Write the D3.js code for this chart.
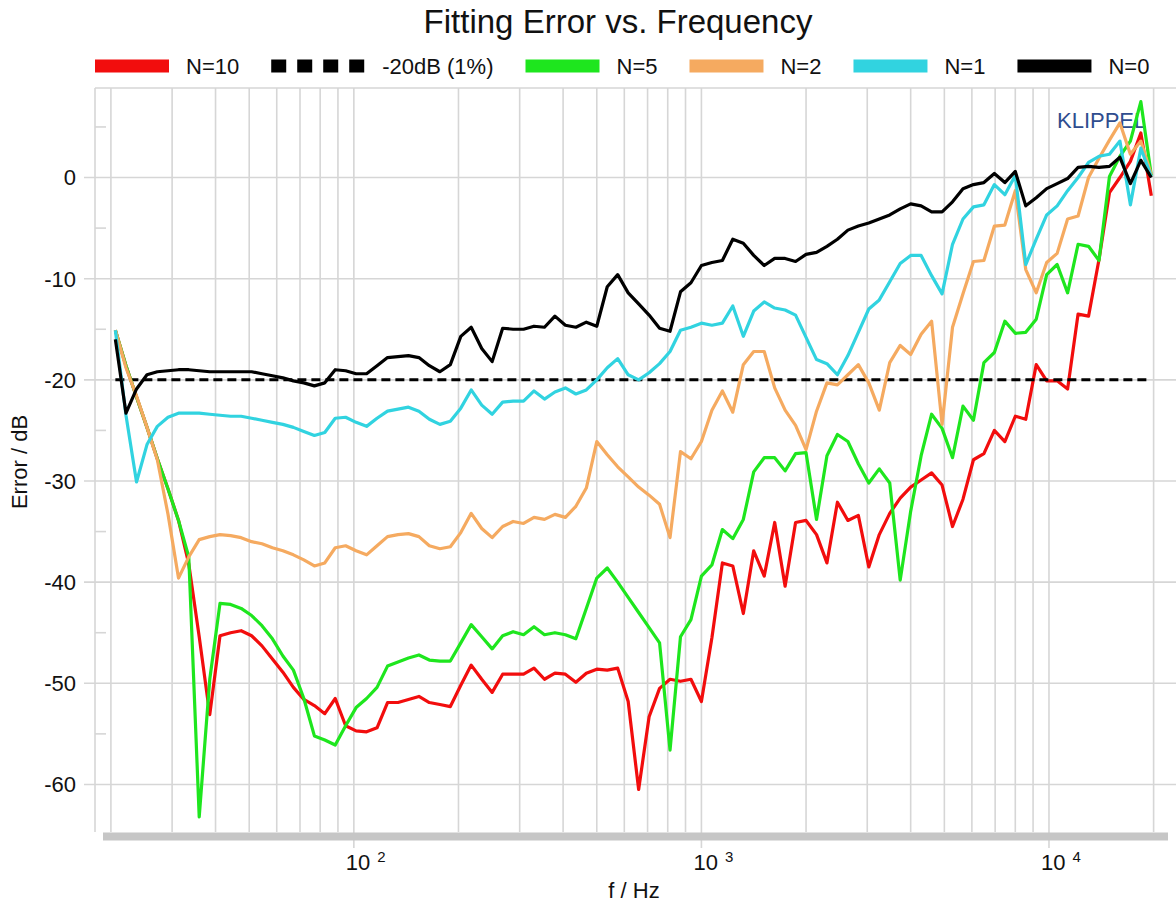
<!DOCTYPE html>
<html>
<head>
<meta charset="utf-8">
<script src="https://cdn.jsdelivr.net/npm/d3@7"></script>
<style>
  body { margin: 0; background: #fff; }
  text { font-family: Arial, "Liberation Sans", sans-serif; fill: #111; }
</style>
</head>
<body>
<svg id="chart"></svg>
<script>
// 1/10-octave frequency points (Hz)
const freqs = [
  20.6, 22.1, 23.7, 25.4, 27.2, 29.2, 31.3, 33.5, 35.9, 38.5,
  41.2, 44.2, 47.4, 50.8, 54.4, 58.3, 62.5, 67.0, 71.8, 77.0,
  82.5, 88.4, 94.7, 101.5, 108.8, 116.6, 125, 134, 143.6, 153.9,
  164.9, 176.8, 189.5, 203.1, 217.6, 233.3, 250, 268, 287.2, 307.8,
  329.9, 353.6, 378.9, 406.1, 435.3, 466.5, 500, 535.9, 574.3, 615.6,
  659.8, 707.1, 757.9, 812.3, 870.6, 933, 1000, 1072, 1149, 1231,
  1320, 1414, 1516, 1625, 1741, 1866, 2000, 2144, 2297, 2462,
  2639, 2828, 3031, 3249, 3482, 3732, 4000, 4287, 4595, 4925,
  5278, 5657, 6063, 6498, 6964, 7464, 8000, 8574, 9190, 9849,
  10556, 11314, 12126, 12996, 13929, 14929, 16000, 17148, 18379, 19698
];

// fitting error in dB per order N
const errN10 = [
  -15.1, -18.6, -21.7, -24.7, -27.8, -30.8, -33.9, -38.2, -45.4, -53.1,
  -45.3, -45.0, -44.8, -45.3, -46.3, -47.6, -48.9, -50.4, -51.6, -52.2,
  -53.0, -51.5, -54.2, -54.7, -54.8, -54.4, -51.9, -51.9, -51.6, -51.3,
  -51.9, -52.1, -52.3, -50.2, -48.2, -49.6, -50.9, -49.1, -49.1, -49.1,
  -48.5, -49.6, -49.0, -49.1, -49.9, -49.0, -48.6, -48.7, -48.5, -51.8,
  -60.5, -53.3, -50.5, -49.6, -49.8, -49.6, -51.8, -45.5, -38.1, -38.4,
  -43.1, -36.9, -39.4, -34.1, -40.4, -34.1, -33.9, -35.3, -38.1, -32.1,
  -33.9, -33.4, -38.5, -35.3, -33.2, -31.7, -30.6, -29.9, -29.2, -30.4,
  -34.5, -31.8, -27.9, -27.3, -25.0, -26.1, -23.6, -23.9, -18.5, -20.1,
  -20.1, -20.9, -13.5, -13.7, -8.1, -1.5, 0.0, 1.6, 4.4, -1.8
];
const errN5 = [
  -15.1, -18.6, -21.7, -24.7, -27.8, -30.8, -33.9, -37.5, -63.2, -49.6,
  -42.1, -42.2, -42.6, -43.3, -44.3, -45.6, -47.3, -48.7, -51.5, -55.2,
  -55.6, -56.1, -54.2, -52.4, -51.5, -50.4, -48.3, -47.9, -47.5, -47.2,
  -47.7, -47.8, -47.8, -46.0, -44.2, -45.4, -46.6, -45.3, -44.9, -45.2,
  -44.4, -45.2, -45.0, -45.2, -45.6, -42.6, -39.6, -38.6, -40.0, -41.5,
  -43.0, -44.5, -46.0, -56.6, -45.4, -43.7, -39.4, -38.3, -34.8, -35.7,
  -33.8, -29.1, -27.7, -27.7, -29.0, -27.3, -27.2, -33.8, -27.5, -25.4,
  -26.1, -28.3, -30.2, -28.8, -30.2, -39.8, -33.0, -27.5, -23.4, -24.8,
  -27.7, -22.6, -24.0, -18.3, -17.3, -14.2, -15.4, -15.3, -14.0, -9.6,
  -8.6, -11.4, -6.6, -6.8, -8.2, 0.1, 2.1, 3.6, 7.5, 0.2
];
const errN2 = [
  -15.1, -18.8, -21.6, -24.7, -27.9, -33.3, -39.6, -37.5, -35.8, -35.5,
  -35.3, -35.4, -35.6, -36.0, -36.2, -36.6, -36.9, -37.3, -37.8, -38.4,
  -38.1, -36.6, -36.4, -36.9, -37.3, -36.4, -35.5, -35.3, -35.2, -35.5,
  -36.4, -36.7, -36.5, -35.1, -33.2, -34.7, -35.6, -34.5, -34.0, -34.2,
  -33.6, -33.8, -33.3, -33.6, -32.5, -30.7, -26.1, -27.4, -28.6, -29.6,
  -30.6, -31.4, -32.3, -35.6, -27.1, -27.8, -26.1, -23.0, -21.1, -23.2,
  -18.5, -17.2, -17.2, -20.8, -23.0, -24.5, -26.9, -23.1, -20.3, -20.5,
  -19.5, -18.5, -20.3, -23.0, -18.3, -16.6, -17.5, -15.5, -14.2, -24.4,
  -14.8, -11.5, -8.3, -8.2, -4.8, -4.7, -1.3, -9.1, -11.4, -8.4,
  -7.5, -4.1, -3.8, 0.0, 1.9, 3.7, 5.4, 2.3, 3.6, 0.3
];
const errN1 = [
  -15.1, -23.5, -30.1, -26.4, -24.6, -23.7, -23.3, -23.3, -23.3, -23.4,
  -23.5, -23.6, -23.6, -23.8, -24.0, -24.2, -24.4, -24.7, -25.1, -25.5,
  -25.2, -23.8, -23.7, -24.2, -24.6, -23.8, -23.1, -22.9, -22.7, -23.1,
  -23.9, -24.4, -24.1, -22.8, -21.0, -22.5, -23.4, -22.2, -22.1, -22.1,
  -21.1, -21.9, -21.2, -20.8, -21.4, -21.0, -20.0, -18.8, -17.9, -19.5,
  -20.0, -19.3, -18.4, -17.2, -15.1, -14.8, -14.4, -14.6, -14.4, -12.7,
  -15.7, -13.2, -12.3, -12.9, -13.1, -13.6, -15.8, -18.0, -18.4, -19.5,
  -17.6, -15.3, -13.0, -12.1, -10.3, -8.5, -7.7, -7.7, -9.7, -11.5,
  -6.6, -4.1, -2.9, -2.7, -0.7, -1.7, 0.2, -8.6, -6.1, -3.7,
  -2.8, -1.3, 0.0, 1.5, 2.1, 2.3, 3.6, -2.7, 2.9, 0.1
];
const errN0 = [
  -16.0, -23.3, -20.9, -19.5, -19.2, -19.1, -19.0, -19.0, -19.1, -19.2,
  -19.2, -19.2, -19.2, -19.2, -19.4, -19.6, -19.8, -20.1, -20.3, -20.6,
  -20.3, -19.0, -19.1, -19.4, -19.4, -18.6, -17.8, -17.7, -17.6, -17.8,
  -18.6, -19.2, -18.5, -15.7, -14.8, -16.9, -18.2, -14.9, -15.0, -15.0,
  -14.7, -14.8, -13.7, -14.6, -14.8, -14.3, -14.7, -10.8, -9.6, -11.4,
  -12.5, -13.6, -14.9, -15.2, -11.3, -10.4, -8.7, -8.4, -8.2, -6.1,
  -6.5, -7.7, -8.7, -8.0, -8.0, -8.3, -7.6, -7.4, -6.8, -6.1,
  -5.2, -4.8, -4.5, -4.1, -3.7, -3.1, -2.6, -2.8, -3.4, -3.4,
  -2.4, -1.1, -0.7, -0.5, 0.4, -0.5, 0.6, -2.8, -2.0, -1.1,
  -0.6, -0.1, 1.0, 1.1, 1.0, 1.1, 2.0, -0.6, 1.7, 0.0
];
const limitDb = -20;

const yTicks = [-60, -50, -40, -30, -20, -10, 0];
const yMinorTicks = [-55, -45, -35, -25, -15, -5, 5];
const xDecades = [100, 1000, 10000];

const legendItems = [
  { label: "N=10", key: "N10" },
  { label: "-20dB (1%)", key: "limit" },
  { label: "N=5", key: "N5" },
  { label: "N=2", key: "N2" },
  { label: "N=1", key: "N1" },
  { label: "N=0", key: "N0" }
];

const colors = {
  N10: "#f20d0d",
  N5: "#1ee61e",
  N2: "#f5aa60",
  N1: "#31d3e0",
  N0: "#000000",
  limit: "#000000"
};

const curves = [
  { key: "N10", values: errN10 },
  { key: "N5", values: errN5 },
  { key: "N2", values: errN2 },
  { key: "N1", values: errN1 },
  { key: "N0", values: errN0 }
];

const chartSize = { width: 1176, height: 903 };
const plot = { left: 95, right: 1168, top: 88, bottom: 832 };
const gridColor = "#d6d6d6";
const labelSize = "22px";

const svg = d3
  .select("#chart")
  .attr("width", chartSize.width)
  .attr("height", chartSize.height)
  .style("display", "block");

svg.append("rect")
  .attr("width", chartSize.width)
  .attr("height", chartSize.height)
  .attr("fill", "#fff");

const x = d3.scaleLog().domain([18, 22000]).range([plot.left, plot.right]);
const y = d3.scaleLinear().domain([-64.7, 8.85]).range([plot.bottom, plot.top]);

// title
svg.append("text")
  .attr("x", 618)
  .attr("y", 33)
  .attr("text-anchor", "middle")
  .style("font-size", "33px")
  .text("Fitting Error vs. Frequency");

// legend, laid out left to right
let lx = plot.left;
const legend = svg.append("g").attr("class", "legend");
legendItems.forEach(item => {
  const dashed = item.key === "limit";
  const w = dashed ? 94 : 74;
  legend.append("line")
    .attr("x1", lx)
    .attr("x2", lx + w)
    .attr("y1", 66)
    .attr("y2", 66)
    .attr("stroke", colors[item.key])
    .attr("stroke-width", 13)
    .attr("stroke-dasharray", dashed ? "15 11" : null);
  const t = legend.append("text")
    .attr("x", lx + w + 17)
    .attr("y", 74)
    .style("font-size", labelSize)
    .text(item.label);
  lx += w + 17 + t.node().getComputedTextLength() + 32;
});

// grid
const grid = svg.append("g").attr("stroke", gridColor).attr("stroke-width", 1.6);

grid.selectAll(".vgrid")
  .data(x.ticks())
  .join("line")
  .attr("x1", d => x(d))
  .attr("x2", d => x(d))
  .attr("y1", plot.top)
  .attr("y2", d => (xDecades.includes(d) ? plot.bottom + 16 : plot.bottom));

grid.selectAll(".hgrid")
  .data(yTicks)
  .join("line")
  .attr("x1", plot.left - 11)
  .attr("x2", chartSize.width)
  .attr("y1", d => y(d))
  .attr("y2", d => y(d));

grid.selectAll(".minor")
  .data(yMinorTicks)
  .join("line")
  .attr("x1", plot.left)
  .attr("x2", plot.left + 11)
  .attr("y1", d => y(d))
  .attr("y2", d => y(d));

// frame: top and left edges, shaded base bar
grid.append("line")
  .attr("x1", plot.left).attr("x2", chartSize.width)
  .attr("y1", plot.top).attr("y2", plot.top);
grid.append("line")
  .attr("x1", plot.left).attr("x2", plot.left)
  .attr("y1", plot.top).attr("y2", plot.bottom);

svg.append("rect")
  .attr("x", plot.left + 8)
  .attr("y", plot.bottom + 0.5)
  .attr("width", plot.right - plot.left - 8)
  .attr("height", 8)
  .attr("fill", "#c6c6c6");

// y tick labels
svg.append("g")
  .selectAll("text")
  .data(yTicks)
  .join("text")
  .attr("x", 76)
  .attr("y", d => y(d))
  .attr("dy", "0.36em")
  .attr("text-anchor", "end")
  .style("font-size", labelSize)
  .text(d => d);

// x tick labels as powers of ten
const xl = svg.append("g")
  .selectAll("text")
  .data(xDecades)
  .join("text")
  .attr("x", d => x(d) - 8)
  .attr("y", 870)
  .style("font-size", labelSize);
xl.append("tspan").text("10");
xl.append("tspan")
  .attr("dx", 7)
  .attr("dy", -8)
  .style("font-size", "15px")
  .text(d => Math.round(Math.log10(d)));

// axis titles
svg.append("text")
  .attr("x", 634)
  .attr("y", 898)
  .attr("text-anchor", "middle")
  .style("font-size", labelSize)
  .text("f / Hz");

svg.append("text")
  .attr("transform", "translate(27,462) rotate(-90)")
  .attr("text-anchor", "middle")
  .style("font-size", labelSize)
  .text("Error / dB");

// watermark
svg.append("text")
  .attr("x", 1057)
  .attr("y", 128)
  .style("font-size", "22px")
  .style("fill", "#2f4d8f")
  .text("KLIPPEL");

// curves
svg.append("clipPath")
  .attr("id", "plot-clip")
  .append("rect")
  .attr("x", plot.left)
  .attr("y", plot.top)
  .attr("width", chartSize.width - plot.left)
  .attr("height", plot.bottom - plot.top);

const lines = svg.append("g").attr("clip-path", "url(#plot-clip)");

const line = d3
  .line()
  .x((d, i) => x(freqs[i]))
  .y(d => y(d));

const drawCurve = (values, key, dashed) =>
  lines.append("path")
    .datum(values)
    .attr("d", line)
    .attr("fill", "none")
    .attr("stroke", colors[key])
    .attr("stroke-width", dashed ? 3 : 3.2)
    .attr("stroke-linejoin", "round")
    .attr("stroke-dasharray", dashed ? "9 5" : null);

drawCurve(curves[0].values, curves[0].key, false);
drawCurve(freqs.map(() => limitDb), "limit", true);
curves.slice(1).forEach(c => drawCurve(c.values, c.key, false));
</script>
</body>
</html>
